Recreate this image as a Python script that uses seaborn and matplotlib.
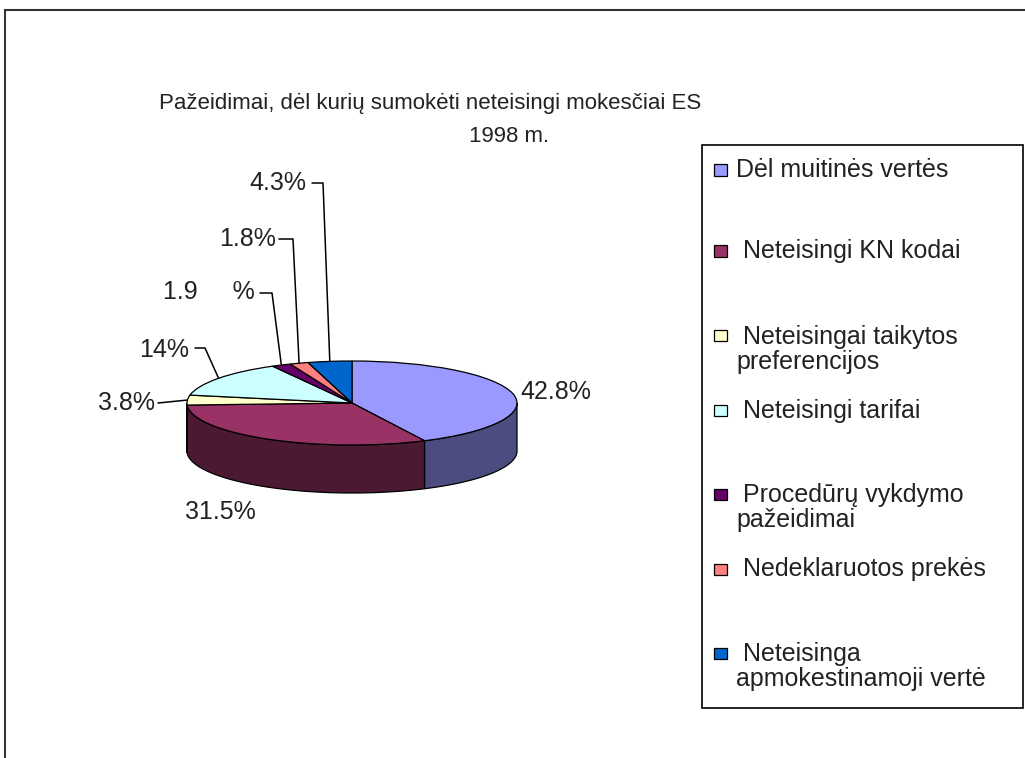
import numpy as np
import matplotlib
matplotlib.use("Agg")
import matplotlib.pyplot as plt
from matplotlib.patches import Rectangle
import seaborn as sns

# ---------------- data ----------------
categories = ["Dėl muitinės vertės", "Neteisingi KN kodai",
              "Neteisingai taikytos preferencijos", "Neteisingi tarifai",
              "Procedūrų vykdymo pažeidimai", "Nedeklaruotos prekės",
              "Neteisinga apmokestinamoji vertė"]
values = [42.8, 31.5, 3.8, 14.0, 1.9, 1.8, 4.3]
value_labels = ["42.8%", "31.5%", "3.8%", "14%", "1.9     %", "1.8%", "4.3%"]
legend_labels = ["Dėl muitinės vertės", " Neteisingi KN kodai",
                 " Neteisingai taikytos\npreferencijos", " Neteisingi tarifai",
                 " Procedūrų vykdymo\npažeidimai", " Nedeklaruotos prekės",
                 " Neteisinga\napmokestinamoji vertė"]
title_line1 = "Pažeidimai, dėl kurių sumokėti neteisingi mokesčiai ES"
title_line2 = "1998 m."

# ---------------- style ----------------
sns.set_theme(style="white")
plt.rcParams["font.family"] = ["Liberation Sans", "DejaVu Sans"]

top_colors = sns.color_palette(["#9999FF", "#993366", "#FFFFCC", "#CCFFFF",
                                "#660066", "#FF8080", "#0066CC"])
side_colors = sns.color_palette(["#4C4C80", "#4C1933", "#808066", "#668080",
                                 "#330033", "#804040", "#003366"])

W, H = 1025, 758
CX, CY = 352, 403      # pie centre (pixels, from top-left)
RX, RY = 165, 42       # pie radii (pixels)
DEPTH = 48             # side wall height (pixels)

fig = plt.figure(figsize=(W / 100, H / 100), dpi=100)
fig.patch.set_facecolor("white")
ax = fig.add_axes([0, 0, 1, 1])

wedges, _ = ax.pie(values, colors=top_colors, startangle=90, counterclock=False,
                   radius=1, center=(0, 0), normalize=True,
                   wedgeprops=dict(edgecolor="black", linewidth=0.9))
ax.set_aspect("auto")
ax.set_xlim(-CX / RX, (W - CX) / RX)
ax.set_ylim(-(H - CY) / RY, CY / RY)
ax.axis("off")
for w in wedges:
    w.set_zorder(3)

d = DEPTH / RY
# side wall of the 3-D pie (front half only)
for w, sc in zip(wedges, side_colors):
    a, b = w.theta1, w.theta2
    for lo, hi in [(-540, -360), (-180, 0), (180, 360)]:
        s, e = max(a, lo), min(b, hi)
        if e - s <= 0:
            continue
        t = np.radians(np.linspace(s, e, 80))
        xs = np.concatenate([np.cos(t), np.cos(t[::-1])])
        ys = np.concatenate([np.sin(t), np.sin(t[::-1]) - d])
        ax.fill(xs, ys, facecolor=sc, edgecolor="black", linewidth=0.9, zorder=2)


def px2data(px, py):
    return ax.transData.inverted().transform((px, H - py))


def fxy(px, py):
    return px / W, 1 - py / H


FS = 18
# ---------------- labels ----------------
label_pos = [(520, 392, "left"), (185, 512, "left"), (155, 403, "right"),
             (189, 350, "right"), (255, 292, "right"), (276, 239, "right"),
             (306, 183, "right")]
leader_pts = {2: [(158, 403)],
              3: [(195, 348), (205, 348)],
              4: [(260, 293), (272, 293)],
              5: [(279, 239), (293, 239)],
              6: [(312, 183), (323, 183)]}

for i, (w, lab) in enumerate(zip(wedges, value_labels)):
    x, y, ha = label_pos[i]
    fig.text(*fxy(x, y), lab, ha=ha, va="center", fontsize=FS, color="#222222")
    if i in leader_pts:
        mid = np.radians((w.theta1 + w.theta2) / 2)
        pts = [px2data(*p) for p in leader_pts[i]] + [(np.cos(mid), np.sin(mid))]
        pts = np.array(pts)
        ax.plot(pts[:, 0], pts[:, 1], color="black", linewidth=1.1, zorder=4)

# ---------------- title ----------------
fig.text(*fxy(430, 103), title_line1, ha="center", va="center", fontsize=16,
         color="#222222")
fig.text(*fxy(509, 137), title_line2, ha="center", va="center", fontsize=16,
         color="#222222")

# ---------------- outer frame ----------------
fig.add_artist(Rectangle((5 / W, -0.1), 1.2, (1 - 10 / H) + 0.1,
                         transform=fig.transFigure, fill=False,
                         edgecolor="#333333", linewidth=1.5))

# ---------------- legend ----------------
fig.add_artist(Rectangle(fxy(702, 708), (1023 - 702) / W, (708 - 145) / H,
                         transform=fig.transFigure, facecolor="white",
                         edgecolor="black", linewidth=1.2, zorder=5))
entry_y = [170, 251, 336, 411, 494, 569, 653]
LINE = 27
for lab, col, yy in zip(legend_labels, top_colors, entry_y):
    fig.add_artist(Rectangle(fxy(714, yy + 5.5), 13 / W, 11 / H,
                             transform=fig.transFigure, facecolor=col,
                             edgecolor="black", linewidth=0.9, zorder=6))
    n = lab.count("\n") + 1
    fig.text(*fxy(736, yy + (n - 1) * LINE / 2), lab, ha="left", va="center",
             fontsize=FS, linespacing=1.08, color="#222222", zorder=7)

fig.savefig("out.png", dpi=100)
